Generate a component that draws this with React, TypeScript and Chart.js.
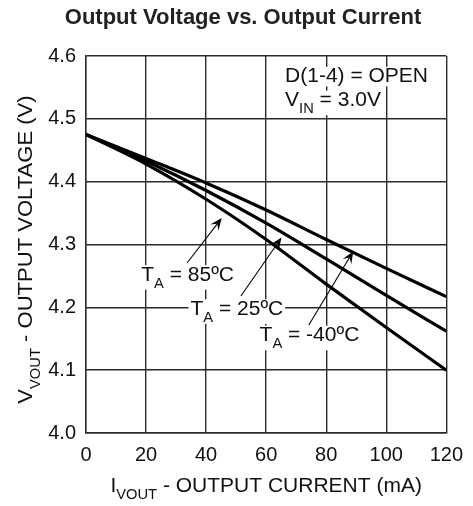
import React, { useEffect, useRef } from "react";
import { Chart, registerables } from "chart.js";

Chart.register(...registerables);

// ---- data ----
const currentMa = [0, 20, 40, 60, 80, 100, 120];
const voutMinus40C = [4.475, 4.437, 4.398, 4.355, 4.308, 4.262, 4.217];
const vout25C = [4.475, 4.433, 4.386, 4.334, 4.277, 4.219, 4.162];
const vout85C = [4.475, 4.428, 4.372, 4.308, 4.237, 4.168, 4.1];
const xTickValues = [0, 20, 40, 60, 80, 100, 120];
const yTickValues = [4.0, 4.1, 4.2, 4.3, 4.4, 4.5, 4.6];

type Part = { t: string; sub?: boolean };

const chartTitle = "Output Voltage vs. Output Current";
const xTitle: Part[] = [{ t: "I" }, { t: "VOUT", sub: true }, { t: " - OUTPUT CURRENT (mA)" }];
const yTitle: Part[] = [{ t: "V" }, { t: "VOUT", sub: true }, { t: " - OUTPUT VOLTAGE (V)" }];

// labels anchored in data space (left x, baseline y)
const conditionLabels: { parts: Part[]; x: number; y: number }[] = [
  { parts: [{ t: "D(1-4) = OPEN" }], x: 66.3, y: 4.558 },
  { parts: [{ t: "V" }, { t: "IN", sub: true }, { t: " = 3.0V" }], x: 66.3, y: 4.52 },
];
const curveLabels: { parts: Part[]; x: number; y: number; from: number[]; to: number[] }[] = [
  { parts: [{ t: "T" }, { t: "A", sub: true }, { t: " = 85ºC" }], x: 18.4, y: 4.2425, from: [33.7, 4.271], to: [45.2, 4.342] },
  { parts: [{ t: "T" }, { t: "A", sub: true }, { t: " = 25ºC" }], x: 34.8, y: 4.188, from: [51.6, 4.218], to: [65.1, 4.311] },
  { parts: [{ t: "T" }, { t: "A", sub: true }, { t: " = -40ºC" }], x: 57.8, y: 4.146, from: [74.2, 4.172], to: [89.0, 4.289] },
];

const FAMILY = "'Liberation Sans', Arial, Helvetica, sans-serif";
const SIZE = 20;
const STRETCH = 1.05;
const TEXT_COLOR = "#111";

function fontFor(p: Part, size: number, bold = false) {
  return `${bold ? "bold " : ""}${p.sub ? Math.round(size * 0.68) : size}px ${FAMILY}`;
}
function measureRich(ctx: CanvasRenderingContext2D, parts: Part[], size: number) {
  let w = 0;
  for (const p of parts) {
    ctx.font = fontFor(p, size);
    w += ctx.measureText(p.t).width;
  }
  return w * STRETCH;
}
function drawRich(ctx: CanvasRenderingContext2D, parts: Part[], x: number, y: number, size: number) {
  ctx.save();
  ctx.translate(x, y);
  ctx.scale(STRETCH, 1);
  ctx.textBaseline = "alphabetic";
  ctx.textAlign = "left";
  let cx = 0;
  for (const p of parts) {
    ctx.font = fontFor(p, size);
    ctx.fillText(p.t, cx, p.sub ? size * 0.36 : 0);
    cx += ctx.measureText(p.t).width;
  }
  ctx.restore();
}

function drawArrow(ctx: CanvasRenderingContext2D, x1: number, y1: number, x2: number, y2: number) {
  const ang = Math.atan2(y2 - y1, x2 - x1);
  const len = 12;
  const half = 5;
  ctx.save();
  ctx.strokeStyle = "#000";
  ctx.fillStyle = "#000";
  ctx.lineWidth = 1.1;
  ctx.beginPath();
  ctx.moveTo(x1, y1);
  ctx.lineTo(x2 - Math.cos(ang) * len * 0.6, y2 - Math.sin(ang) * len * 0.6);
  ctx.stroke();
  ctx.translate(x2, y2);
  ctx.rotate(ang);
  ctx.beginPath();
  ctx.moveTo(0, 0);
  ctx.lineTo(-len, -half);
  ctx.lineTo(-len * 0.6, 0);
  ctx.lineTo(-len, half);
  ctx.closePath();
  ctx.fill();
  ctx.restore();
}

const annotationPlugin = {
  id: "annotations",
  beforeDatasetsDraw(chart: any) {
    const ctx: CanvasRenderingContext2D = chart.ctx;
    const xs = chart.scales.x;
    const ys = chart.scales.y;
    ctx.save();
    ctx.fillStyle = "#fff";
    const all = [...conditionLabels, ...curveLabels];
    for (const l of all) {
      const px = xs.getPixelForValue(l.x);
      const py = ys.getPixelForValue(l.y);
      const w = measureRich(ctx, l.parts, SIZE);
      const hasSub = l.parts.some((p) => p.sub);
      ctx.fillRect(px - 2, py - SIZE * 0.78, w + 4, SIZE * 0.78 + (hasSub ? 9 : 4));
    }
    ctx.restore();
  },
  afterDatasetsDraw(chart: any) {
    const ctx: CanvasRenderingContext2D = chart.ctx;
    const xs = chart.scales.x;
    const ys = chart.scales.y;
    ctx.save();
    for (const l of curveLabels) {
      drawArrow(
        ctx,
        xs.getPixelForValue(l.from[0]),
        ys.getPixelForValue(l.from[1]),
        xs.getPixelForValue(l.to[0]),
        ys.getPixelForValue(l.to[1])
      );
    }
    ctx.fillStyle = TEXT_COLOR;
    for (const l of [...conditionLabels, ...curveLabels]) {
      drawRich(ctx, l.parts, xs.getPixelForValue(l.x), ys.getPixelForValue(l.y), SIZE);
    }
    ctx.restore();
  },
  afterDraw(chart: any) {
    const ctx: CanvasRenderingContext2D = chart.ctx;
    const area = chart.chartArea;
    ctx.save();
    ctx.fillStyle = "#222";
    ctx.font = `bold 22px ${FAMILY}`;
    ctx.textAlign = "center";
    ctx.textBaseline = "alphabetic";
    ctx.fillText(chartTitle, 243, 24);

    ctx.fillStyle = TEXT_COLOR;
    const xw = measureRich(ctx, xTitle, SIZE);
    drawRich(ctx, xTitle, (area.left + area.right) / 2 - xw / 2, 492, SIZE);

    const yw = measureRich(ctx, yTitle, 21);
    ctx.translate(32, (area.top + area.bottom) / 2 + 5);
    ctx.rotate(-Math.PI / 2);
    drawRich(ctx, yTitle, -yw / 2, 0, 21);
    ctx.restore();
  },
};

export default function App() {
  const ref = useRef<HTMLCanvasElement | null>(null);
  useEffect(() => {
    if (!ref.current) return;
    const mk = (label: string, ys: number[]) => ({
      label,
      data: currentMa.map((x, i) => ({ x, y: ys[i] })),
      borderColor: "#000",
      borderWidth: 3.2,
      pointRadius: 0,
      fill: false,
      cubicInterpolationMode: "monotone" as const,
    });
    const chart = new Chart(ref.current, {
      type: "line",
      data: {
        datasets: [mk("TA = -40ºC", voutMinus40C), mk("TA = 25ºC", vout25C), mk("TA = 85ºC", vout85C)],
      },
      options: {
        responsive: false,
        animation: false,
        devicePixelRatio: 1,
        layout: { padding: { top: 56, right: 22, left: 0, bottom: 0 } },
        plugins: { legend: { display: false }, title: { display: false }, tooltip: { enabled: false } },
        scales: {
          x: {
            type: "linear",
            min: 0,
            max: 120,
            afterBuildTicks: (s: any) => {
              s.ticks = xTickValues.map((v) => ({ value: v }));
            },
            afterFit: (s: any) => {
              s.height = 73;
            },
            grid: { color: "#2a2a2a", lineWidth: 1.4, drawTicks: false },
            border: { color: "#2a2a2a", width: 1.4 },
            ticks: { padding: 10, color: TEXT_COLOR, font: { family: FAMILY, size: SIZE }, callback: (v: any) => String(v) },
          },
          y: {
            type: "linear",
            min: 4.0,
            max: 4.6,
            afterBuildTicks: (s: any) => {
              s.ticks = yTickValues.map((v) => ({ value: v }));
            },
            afterFit: (s: any) => {
              s.width = 86;
            },
            grid: { color: "#2a2a2a", lineWidth: 1.4, drawTicks: false },
            border: { color: "#2a2a2a", width: 1.4 },
            ticks: { padding: 10, color: TEXT_COLOR, font: { family: FAMILY, size: SIZE }, callback: (v: any) => Number(v).toFixed(1) },
          },
        },
      },
      plugins: [annotationPlugin],
    });
    return () => chart.destroy();
  }, []);
  return (
    <div style={{ position: "absolute", left: 0, top: 0, width: 473, height: 506, background: "#fff" }}>
      <canvas ref={ref} width={473} height={506} style={{ width: 473, height: 506, display: "block" }} />
    </div>
  );
}
